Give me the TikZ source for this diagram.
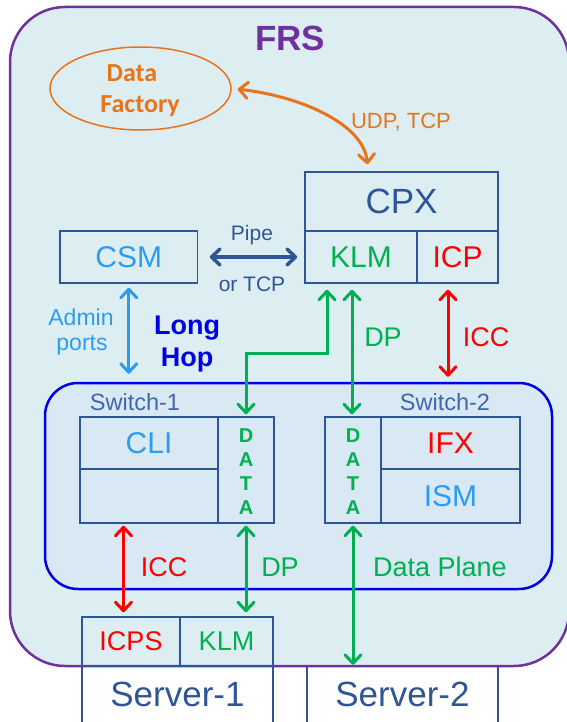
\documentclass[tikz,border=0pt]{standalone}
\usepackage{fontspec}
\setmainfont{Liberation Sans}
\newfontfamily\calibrifont{Carlito}
\usetikzlibrary{arrows.meta,calc,shapes.geometric}

\definecolor{frsbg}{RGB}{221,238,243}
\definecolor{swbg}{RGB}{217,233,243}
\definecolor{frspurple}{RGB}{112,48,160}
\definecolor{boxblue}{RGB}{47,85,151}
\definecolor{labelblue}{RGB}{63,103,173}
\definecolor{lightblue}{RGB}{43,156,242}
\definecolor{dfgreen}{RGB}{0,176,80}
\definecolor{dfred}{RGB}{255,0,0}
\definecolor{dforange}{RGB}{232,116,26}
\definecolor{hopblue}{RGB}{0,0,230}

\newcommand{\fs}[1]{\fontsize{#1}{#1}\selectfont}

\tikzset{
  cell/.style={draw=boxblue, line width=1.5pt, inner sep=0pt, anchor=center},
  txt/.style={inner sep=0pt, anchor=center},
  vertword/.style={txt, text=dfgreen, align=center, font={\fontsize{20}{24}\selectfont\bfseries}},
  link/.style={line width=3pt, {Straight Barb[length=8.5pt,width=16pt,round]}-{Straight Barb[length=8.5pt,width=16pt,round]}},
  greenlink/.style={link, draw=dfgreen},
  redlink/.style={link, draw=dfred},
  bluelink/.style={link, draw=lightblue},
  pipelink/.style={link, draw=boxblue, line width=3.5pt},
  orangelink/.style={link, draw=dforange}
}

\begin{document}
\begin{tikzpicture}[x=1pt, y=-1pt]
\useasboundingbox (0,0) rectangle (566,722);
\fill[white] (0,0) rectangle (566,722);

% servers below the FRS frame
\node[fill=white, inner sep=0pt, minimum width=191pt, minimum height=56pt] (server1) at (177.5,694) {};
\node[fill=white, inner sep=0pt, minimum width=191pt, minimum height=56pt] (server2) at (402.5,694) {};
\draw[boxblue, line width=1.5pt] (server1.south west) -- (server1.north west) -- (server1.north east) -- (server1.south east);
\draw[boxblue, line width=1.5pt] (server2.south west) -- (server2.north west) -- (server2.north east) -- (server2.south east);
\node[txt, text=boxblue] at (server1) {\fs{35}Server-1};
\node[txt, text=boxblue] at (server2) {\fs{35}Server-2};

% FRS frame
\draw[frspurple, line width=2.5pt, fill=frsbg, rounded corners=55pt] (10,7) rectangle (569,666);
\node[txt, text=frspurple] (frs) at (290,38) {\fs{35}\bfseries FRS};

% Data Factory
\node[draw=dforange, line width=1.5pt, ellipse, minimum width=181pt, minimum height=83pt, inner sep=0pt] (df) at (140.5,88.5) {};
\node[txt, text=dforange] at (132,73) {\calibrifont\fs{26}\bfseries Data};
\node[txt, text=dforange] at (140,106) {\calibrifont\fs{26}\bfseries Factory};

% CPX
\node[cell, minimum width=193pt, minimum height=59pt] (cpx) at (401.5,201.5) {};
\node[txt, text=boxblue] at (cpx) {\fs{35}CPX};
\node[cell, minimum width=112pt, minimum height=52pt] (klm) at (361,257) {};
\node[txt, text=dfgreen] at (klm) {\fs{30}KLM};
\node[cell, minimum width=81pt, minimum height=52pt] (icp) at (457.5,257) {};
\node[txt, text=dfred] at (icp) {\fs{30}ICP};

% CSM
\node[cell, minimum width=137.5pt, minimum height=52pt] (csm) at (128.75,257) {};
\node[txt, text=lightblue] at (csm) {\fs{30}CSM};

% switch area
\node[draw=hopblue, line width=2.5pt, fill=swbg, rounded corners=33pt, minimum width=507pt, minimum height=206pt, inner sep=0pt] (switch) at (298.5,486) {};
\node[txt, text=labelblue] at (135,402) {\fs{23.5}Switch-1};
\node[txt, text=labelblue] at (445,402) {\fs{23.5}Switch-2};

% Switch-1 cells
\node[cell, minimum width=138pt, minimum height=52pt] (cli) at (149,443) {};
\node[txt, text=lightblue] at (cli) {\fs{30}CLI};
\node[cell, minimum width=138pt, minimum height=54pt] (blank) at (149,496) {};
\node[cell, minimum width=56pt, minimum height=106pt] (data1) at (246,470) {};
\node[vertword] at (246,472) {D\\A\\T\\A};

% Switch-2 cells
\node[cell, minimum width=56pt, minimum height=106pt] (data2) at (353,470) {};
\node[vertword] at (353,472) {D\\A\\T\\A};
\node[cell, minimum width=139pt, minimum height=52pt] (ifx) at (450.5,443) {};
\node[txt, text=dfred] at (ifx) {\fs{30}IFX};
\node[cell, minimum width=139pt, minimum height=54pt] (ism) at (450.5,496) {};
\node[txt, text=lightblue] at (ism) {\fs{30}ISM};

% Server-1 cells
\node[cell, minimum width=98pt, minimum height=49pt] (icps) at (131,641.5) {};
\node[txt, text=dfred] at (icps) {\fs{27}ICPS};
\node[cell, minimum width=93pt, minimum height=49pt] (klmb) at (226.5,641.5) {};
\node[txt, text=dfgreen] at (klmb) {\fs{27}KLM};

% connectors
\draw[orangelink, shorten <=6pt, shorten >=7pt] (df.east) .. controls (300,96) and (364,124) .. ([xshift=-33.5pt]cpx.north);
\node[txt, text=dforange] at (401,122) {\fs{22}UDP, TCP};

\draw[pipelink, shorten <=11.5pt, shorten >=7pt] (csm.east) -- (klm.west);
\node[txt, text=boxblue] at (252,235) {\fs{21}Pipe};
\node[txt, text=boxblue] at (252,284) {\fs{21}or TCP};

\draw[bluelink, shorten <=4pt, shorten >=8pt] (csm.south) -- (csm.south |- switch.north);
\node[txt, text=lightblue] at (81,317) {\fs{23}Admin};
\node[txt, text=lightblue] at (82,345) {\fs{23}ports};
\node[txt, text=hopblue] at (187,328) {\fs{27}\bfseries Long};
\node[txt, text=hopblue] at (187,360) {\fs{27}\bfseries Hop};

\draw[greenlink, shorten <=2pt, shorten >=6pt] (data1.north) -- (data1.north |- 0,353) -| ([xshift=-34pt]klm.south);
\draw[greenlink, shorten <=2pt, shorten >=6pt] ([xshift=-1pt]data2.north) -- ([xshift=-1pt]data2.north |- klm.south);
\node[txt, text=dfgreen] at (383,337) {\fs{27}DP};

\draw[redlink, shorten <=6pt, shorten >=5pt] ([xshift=-9.5pt]icp.south) -- ([xshift=-9.5pt]icp.south |- switch.north);
\node[txt, text=dfred] at (486,337) {\fs{27}ICC};

\draw[redlink, shorten <=2pt, shorten >=4pt] ([xshift=-25.5pt]blank.south) -- ([xshift=-25.5pt]blank.south |- icps.north);
\node[txt, text=dfred] at (164,567) {\fs{27}ICC};

\draw[greenlink, shorten <=2pt, shorten >=4pt] (data1.south) -- (data1.south |- klmb.north);
\node[txt, text=dfgreen] at (280,567) {\fs{27}DP};

\draw[greenlink, shorten <=2pt, shorten >=1pt] (data2.south) -- (data2.south |- server2.north);
\node[txt, text=dfgreen] at (440,567) {\fs{27}Data Plane};
\end{tikzpicture}
\end{document}
